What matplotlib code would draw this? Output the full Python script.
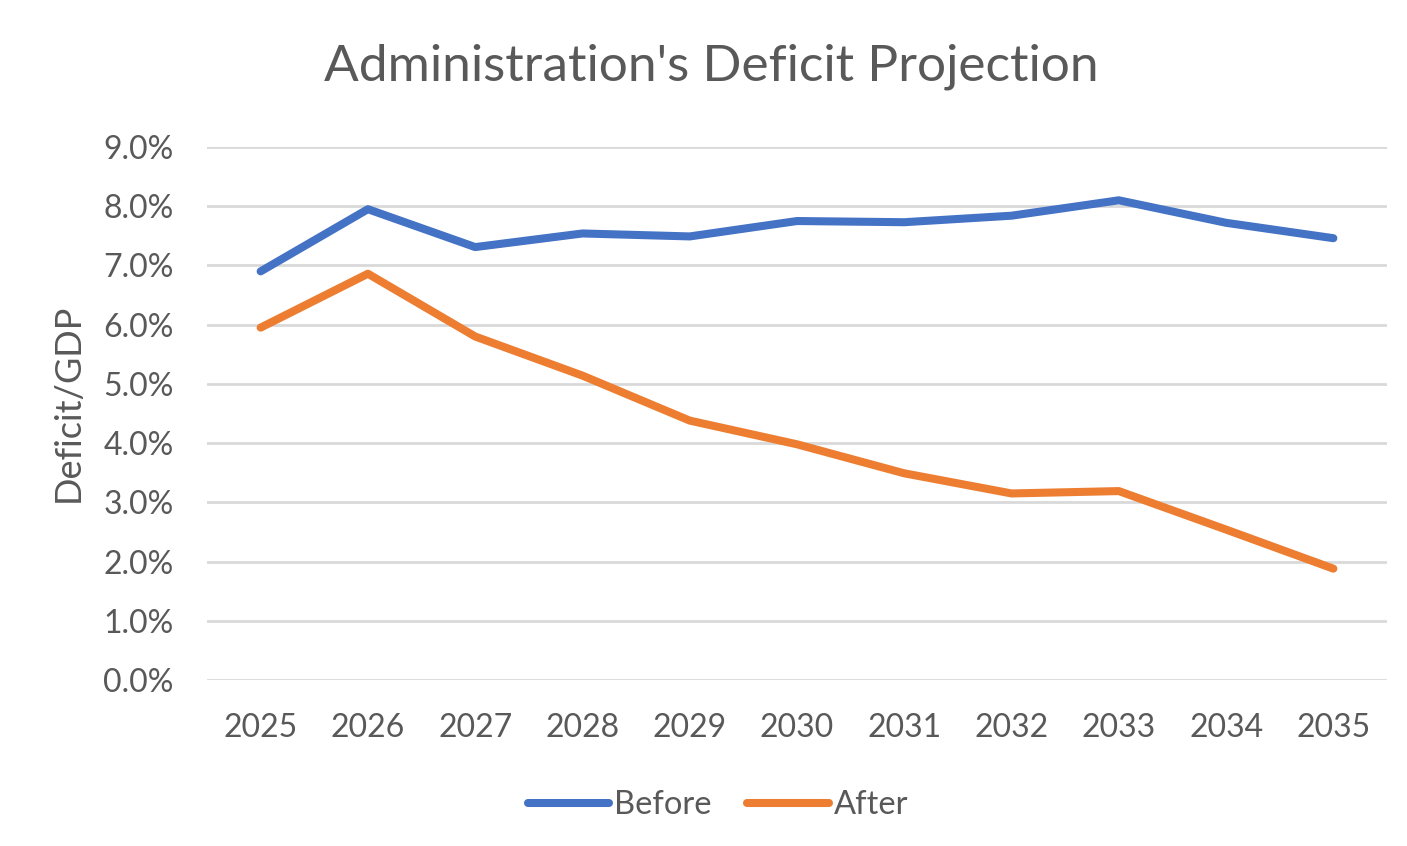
import matplotlib
matplotlib.use("Agg")
import matplotlib.pyplot as plt
from matplotlib.ticker import FuncFormatter

years = ["2025", "2026", "2027", "2028", "2029", "2030", "2031", "2032", "2033", "2034", "2035"]
before = [6.90, 7.95, 7.31, 7.54, 7.49, 7.75, 7.73, 7.84, 8.10, 7.72, 7.46]
after = [5.95, 6.86, 5.80, 5.14, 4.38, 3.98, 3.49, 3.15, 3.19, 2.54, 1.88]
yticks = [0, 1, 2, 3, 4, 5, 6, 7, 8, 9]

plt.rcParams['font.family'] = ['Lato', 'DejaVu Sans']
gray = '#595959'

fig = plt.figure(figsize=(14.07, 8.46), dpi=100)
ax = fig.add_axes([207/1407, 1-680/846, (1387-207)/1407, (680-147)/846])

x = list(range(len(years)))
ax.plot(x, before, color='#4472C4', lw=5.8, solid_capstyle='round', solid_joinstyle='round', label='Before', zorder=3)
ax.plot(x, after, color='#ED7D31', lw=5.8, solid_capstyle='round', solid_joinstyle='round', label='After', zorder=3)

ax.set_xlim(-0.5, len(years) - 0.5)
ax.set_ylim(0, 9)
ax.set_yticks(yticks)
ax.yaxis.set_major_formatter(FuncFormatter(lambda v, p: f"{v:.1f}%"))
ax.set_xticks(x)
ax.set_xticklabels(years)
ax.grid(axis='y', color='#d9d9d9', lw=2)
ax.set_axisbelow(True)
for s in ax.spines.values():
    s.set_visible(False)
ax.tick_params(axis='both', length=0, labelsize=23, labelcolor=gray)
ax.tick_params(axis='y', pad=24)
ax.tick_params(axis='x', pad=24)
ax.set_ylabel('Deficit/GDP', fontsize=26, color=gray)
ax.yaxis.set_label_coords(-0.104, 0.52)

fig.text(711/1407, 1-67/846, "Administration's Deficit Projection", ha='center', va='center',
         fontsize=37, color=gray)

fig.legend(loc='center', bbox_to_anchor=(718/1407, 1-805/846), ncol=2, frameon=False,
           fontsize=23.5, labelcolor=gray, handlelength=2.5, handletextpad=0.15, columnspacing=1.1)

fig.savefig('out.png', dpi=100, facecolor='white')
